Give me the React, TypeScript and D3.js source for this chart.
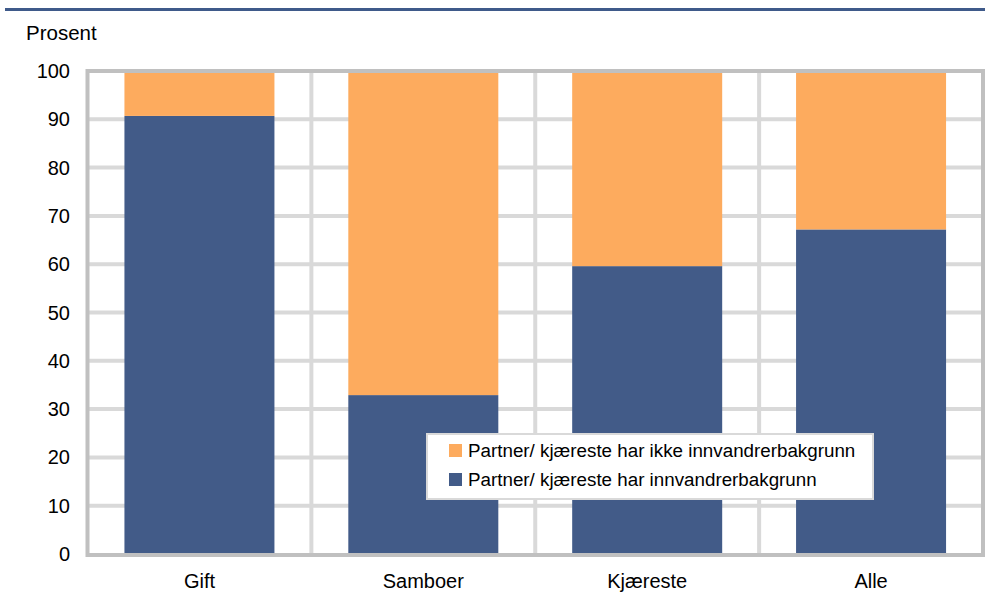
import * as d3 from 'd3'
import React from 'react'

const categories = ['Gift', 'Samboer', 'Kjæreste', 'Alle']
const withBackground = [90.7, 32.9, 59.6, 67.2]
const withoutBackground = withBackground.map((v) => 100 - v)
const yTicks = [0, 10, 20, 30, 40, 50, 60, 70, 80, 90, 100]
const seriesNames = [
    'Partner/ kjæreste har ikke innvandrerbakgrunn',
    'Partner/ kjæreste har innvandrerbakgrunn',
]

const blue = '#425b88'
const orange = '#fdab5e'
const font = 'Arial, "Liberation Sans", sans-serif'

const W = 985
const H = 594
const margin = { top: 71, right: 2, bottom: 39, left: 87.5 }

export default function App() {
    const svgRef = React.useRef<SVGSVGElement | null>(null)

    React.useEffect(() => {
        const svg = d3.select(svgRef.current)
        svg.selectAll('*').remove()

        const x = d3
            .scaleBand()
            .domain(categories)
            .range([margin.left, W - margin.right])
        const y = d3
            .scaleLinear()
            .domain([0, 100])
            .range([H - margin.bottom - 1, margin.top])

        const barW = x.bandwidth() * 0.67

        // top rule
        svg.append('rect').attr('x', 5).attr('y', 8).attr('width', W - 5).attr('height', 3).attr('fill', '#3f5a8a')

        // grid
        const grid = svg.append('g')
        grid.selectAll('line.h')
            .data(yTicks.filter((t) => t > 0 && t < 100))
            .join('line')
            .attr('x1', margin.left)
            .attr('x2', W - margin.right)
            .attr('y1', (d) => y(d))
            .attr('y2', (d) => y(d))
            .attr('stroke', '#d9d9d9')
            .attr('stroke-width', 4)
        grid.selectAll('line.v')
            .data(categories.slice(1))
            .join('line')
            .attr('x1', (d) => x(d)!)
            .attr('x2', (d) => x(d)!)
            .attr('y1', margin.top)
            .attr('y2', H - margin.bottom)
            .attr('stroke', '#d9d9d9')
            .attr('stroke-width', 4)

        // stacked bars
        const stacked = d3
            .stack<number>()
            .keys(['a', 'b'])
            .value((i, k) => (k === 'a' ? withBackground[i] : withoutBackground[i]))(d3.range(categories.length))
        const colors = [blue, orange]
        stacked.forEach((ser, si) => {
            svg.append('g')
                .attr('fill', colors[si])
                .selectAll('rect')
                .data(ser)
                .join('rect')
                .attr('x', (d) => x(categories[d.data])! + (x.bandwidth() - barW) / 2)
                .attr('width', barW)
                .attr('y', (d) => y(d[1]))
                .attr('height', (d) => y(d[0]) - y(d[1]))
        })

        // frame
        svg.append('rect')
            .attr('x', margin.left)
            .attr('y', margin.top)
            .attr('width', W - margin.right - margin.left)
            .attr('height', H - margin.bottom - margin.top)
            .attr('fill', 'none')
            .attr('stroke', '#c0c0c0')
            .attr('stroke-width', 4)

        // y-axis labels
        svg.append('g')
            .selectAll('text')
            .data(yTicks)
            .join('text')
            .attr('x', 70)
            .attr('y', (d) => y(d))
            .attr('dy', '0.35em')
            .attr('text-anchor', 'end')
            .attr('font-family', font)
            .attr('font-size', 20)
            .attr('fill', '#000')
            .text((d) => d)

        svg.append('text')
            .attr('x', 26)
            .attr('y', 40)
            .attr('font-family', font)
            .attr('font-size', 20.5)
            .text('Prosent')

        // x-axis labels
        svg.append('g')
            .selectAll('text')
            .data(categories)
            .join('text')
            .attr('x', (d) => x(d)! + x.bandwidth() / 2)
            .attr('y', 588)
            .attr('text-anchor', 'middle')
            .attr('font-family', font)
            .attr('font-size', 20)
            .text((d) => d)

        // legend
        const lg = svg.append('g').attr('transform', 'translate(427,434)')
        lg.append('rect')
            .attr('width', 446)
            .attr('height', 65)
            .attr('fill', '#fff')
            .attr('stroke', '#d9d9d9')
            .attr('stroke-width', 2)
        seriesNames.forEach((name, i) => {
            const row = lg.append('g').attr('transform', `translate(22,${10 + i * 29})`)
            row.append('rect').attr('width', 13).attr('height', 13).attr('fill', i === 0 ? orange : blue)
            row.append('text')
                .attr('x', 19)
                .attr('y', 13)
                .attr('font-family', font)
                .attr('font-size', 18.8)
                .text(name)
        })
    }, [])

    return (
        <svg
            ref={svgRef}
            width={W}
            height={H}
            style={{ position: 'absolute', left: 0, top: 0, background: '#fff' }}
        />
    )
}
